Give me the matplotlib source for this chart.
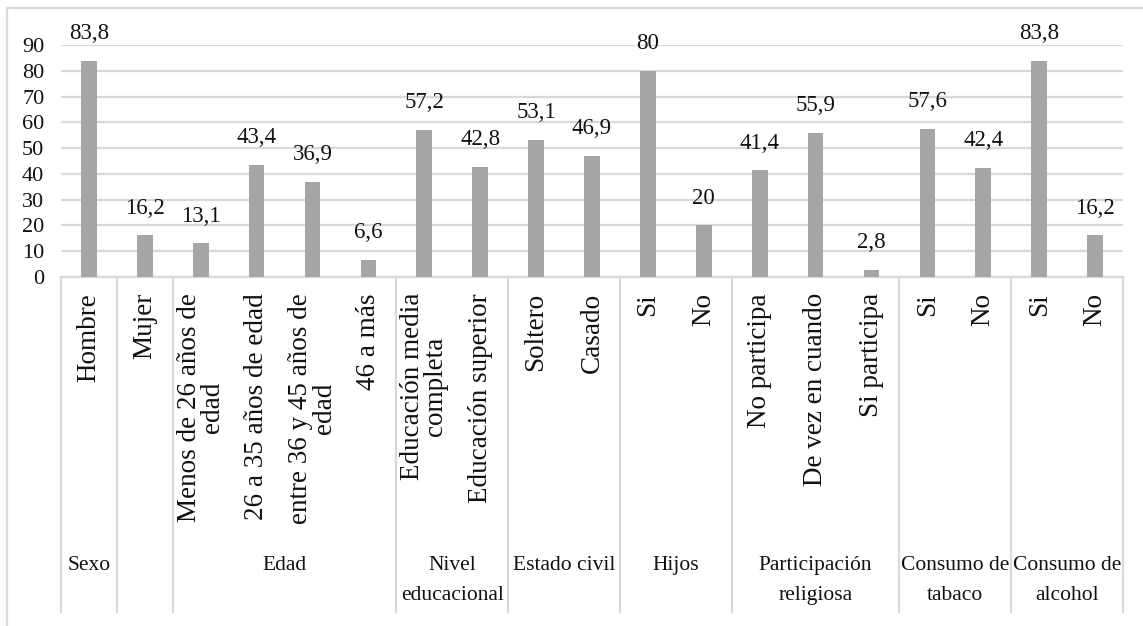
import matplotlib.pyplot as plt
from matplotlib import transforms
from matplotlib.lines import Line2D

plt.rcParams['font.family'] = ['Liberation Serif', 'DejaVu Serif']

categories = ['Hombre', 'Mujer',
              'Menos de 26 años de\nedad', '26 a 35 años de edad',
              'entre 36 y 45 años de\nedad', '46 a más',
              'Educación media\ncompleta', 'Educación superior',
              'Soltero', 'Casado',
              'Si', 'No',
              'No participa', 'De vez en cuando', 'Si participa',
              'Si', 'No',
              'Si', 'No']
values = [83.8, 16.2, 13.1, 43.4, 36.9, 6.6, 57.2, 42.8, 53.1, 46.9,
          80, 20, 41.4, 55.9, 2.8, 57.6, 42.4, 83.8, 16.2]
value_labels = ['83,8', '16,2', '13,1', '43,4', '36,9', '6,6', '57,2', '42,8',
                '53,1', '46,9', '80', '20', '41,4', '55,9', '2,8', '57,6',
                '42,4', '83,8', '16,2']
groups = ['Sexo', '', 'Edad', 'Nivel\neducacional', 'Estado civil', 'Hijos',
          'Participación\nreligiosa', 'Consumo de\ntabaco', 'Consumo de\nalcohol']
group_sizes = [1, 1, 4, 2, 2, 2, 3, 2, 2]

W, H = 1143, 626
fig = plt.figure(figsize=(W / 100, H / 100), dpi=100)
ax = fig.add_axes([61 / W, 1 - 277 / H, (1123 - 61) / W, (277 - 45) / H])

grid_c = '#d9d9d9'
txt_c = '#111111'
x = list(range(len(values)))
ax.bar(x, values, width=0.28, color='#a5a5a5', zorder=3)
for xi, v, lab in zip(x, values, value_labels):
    ax.annotate(lab, (xi, v), xytext=(0, 12), textcoords='offset points',
                ha='center', va='bottom', fontsize=16.5, color=txt_c)

ax.set_xlim(-0.5, len(values) - 0.5)
ax.set_ylim(0, 90)
ax.set_yticks(range(0, 91, 10))
ax.tick_params(axis='y', length=0, pad=12, labelsize=16, labelcolor=txt_c)
ax.set_xticks([])
ax.yaxis.grid(True, color=grid_c, linewidth=1.6, zorder=0)
for s in ['top', 'right', 'left']:
    ax.spines[s].set_visible(False)
ax.spines['bottom'].set_color(grid_c)
ax.spines['bottom'].set_linewidth(1.6)

# multi-level category table under the axis
tr = transforms.blended_transform_factory(ax.transData, fig.transFigure)
y_top = 1 - 277 / H
y_bot = 1 - 612 / H
for xi, c in zip(x, categories):
    ax.text(xi, 1 - 293 / H, c, transform=tr, rotation=90, ha='center',
            va='top', multialignment='center', fontsize=19.5, linespacing=0.9,
            color=txt_c)

bounds = [0]
for n in group_sizes:
    bounds.append(bounds[-1] + n)
for b in bounds:
    ax.add_line(Line2D([b - 0.5, b - 0.5], [y_top, y_bot], transform=tr,
                       color=grid_c, linewidth=1.6, clip_on=False))
for g, a, b in zip(groups, bounds[:-1], bounds[1:]):
    ax.text((a + b - 1) / 2, 1 - 556 / H, g, transform=tr, ha='center',
            va='top', multialignment='center', fontsize=15.5, linespacing=1.8,
            color=txt_c)

# outer chart border
fig.add_artist(Line2D([7 / W, 7 / W], [0, 1 - 8 / H], color=grid_c, linewidth=1.6))
fig.add_artist(Line2D([7 / W, 1], [1 - 8 / H, 1 - 8 / H], color=grid_c, linewidth=1.6))

fig.savefig('out.png', dpi=100)
